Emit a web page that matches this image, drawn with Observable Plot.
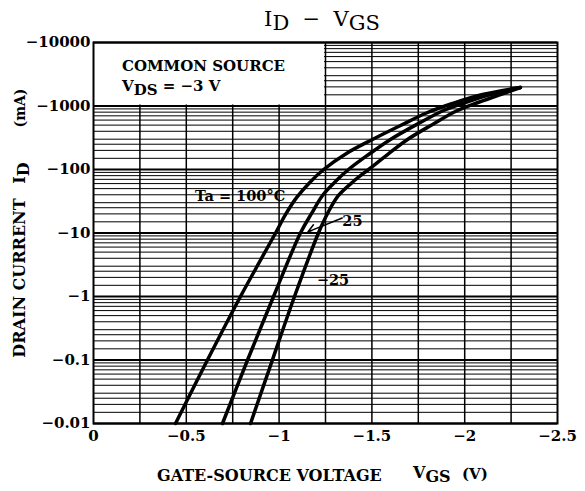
<!DOCTYPE html>
<html><head><meta charset="utf-8">
<script src="https://cdn.jsdelivr.net/npm/d3@7"></script>
<script src="https://cdn.jsdelivr.net/npm/@observablehq/plot@0.6"></script>
<style>body{margin:0;background:#fff}</style>
</head><body><div id="chart"></div>
<script>
// ---- data (VGS in V, ID in mA) ----
const vgs100 = [-0.442, -0.614, -0.792, -0.981, -1.035, -1.094, -1.164, -1.240, -1.363, -1.503, -1.654, -1.800, -1.934, -2.096, -2.30];
const id100  = [-0.01, -0.1, -1, -10, -19.6, -36, -62, -100, -179, -297, -493, -790, -1095, -1517, -1955];
const vgs25  = [-0.695, -0.830, -0.970, -1.115, -1.175, -1.234, -1.309, -1.374, -1.482, -1.600, -1.751, -1.886, -2.004, -2.139, -2.30];
const id25   = [-0.01, -0.1, -1, -10, -20.3, -39, -67, -100, -172, -297, -530, -850, -1135, -1517, -1955];
const vgsM25 = [-0.846, -0.964, -1.083, -1.212, -1.261, -1.320, -1.406, -1.482, -1.584, -1.692, -1.827, -1.950, -2.058, -2.177, -2.30];
const idM25  = [-0.01, -0.1, -1, -10, -20.3, -39, -67, -100, -172, -297, -512, -818, -1095, -1462, -1955];

const xTicks = [0, -0.5, -1, -1.5, -2, -2.5];
const xGrid = [-0.25, -0.5, -0.75, -1, -1.25, -1.5, -1.75, -2, -2.25];
const yTicks = [-0.01, -0.1, -1, -10, -100, -1000, -10000];
const minorMult = [1.5, 2, 2.5, 3, 4, 5, 6, 7, 8, 9];

const labelText = ["Ta = 100°C", "25", "−25"];
const labelX = [-0.79, -1.395, -1.29];
const labelY = [-38, -15.5, -1.8];
const arrowFrom = {x: -1.34, y: -17.2};
const arrowTo = {x: -1.155, y: -10.4};
const noteBox = [{x1: 0, x2: -1.25, y1: -1000, y2: -10000}];

// ---- build tables ----
const curves = [];
[[vgs100, id100, "100"], [vgs25, id25, "25"], [vgsM25, idM25, "-25"]].forEach(([xs, ys, t]) =>
  xs.forEach((v, i) => curves.push({vgs: v, id: ys[i], ta: t})));
const minor = [];
yTicks.slice(0, -1).forEach(d => minorMult.forEach(m => minor.push(d * m)));
const labels = labelText.map((t, i) => ({t, x: labelX[i], y: labelY[i]}));

const F = "DejaVu Serif";
const chart = Plot.plot({
  width: 585, height: 491,
  marginLeft: 93, marginRight: 28, marginTop: 42, marginBottom: 68,
  style: {fontFamily: F, fontSize: "15px", fontWeight: "bold", color: "black", background: "white"},
  x: {domain: [0, -2.5], ticks: xTicks, tickFormat: d3.format(""), tickSize: 0, tickPadding: 7, label: null},
  y: {type: "log", domain: [-0.01, -10000], ticks: yTicks, tickFormat: d3.format(""), tickSize: 0, tickPadding: 3, label: null},
  marks: [
    Plot.ruleY(minor, {stroke: "black", strokeWidth: 1}),
    Plot.ruleX(xGrid, {stroke: "black", strokeWidth: 1.5}),
    Plot.rect(noteBox, {x1: "x1", x2: "x2", y1: "y1", y2: "y2", fill: "white", insetRight: 1, insetBottom: 1}),
    Plot.ruleY(yTicks, {stroke: "black", strokeWidth: 2.2}),
    Plot.text(labels, {x: "x", y: "y", text: "t", fontSize: 14.5, fontWeight: "bold", fill: "black"}),
    Plot.arrow([arrowFrom], {x1: "x", y1: "y", x2: d => arrowTo.x, y2: d => arrowTo.y, stroke: "black", strokeWidth: 1.5, headLength: 9}),
    Plot.line(curves, {x: "vgs", y: "id", z: "ta", stroke: "black", strokeWidth: 3.5, curve: "catmull-rom"}),
    Plot.frame({stroke: "black", strokeWidth: 2})
  ]
});
document.getElementById("chart").append(chart);

const svg = d3.select(chart);
// white boxes behind annotation labels
svg.selectAll('g[aria-label="text"] text').each(function() {
  const b = this.getBBox();
  d3.select(this.parentNode).insert("rect", () => this)
    .attr("x", b.x - 5).attr("y", b.y - 1).attr("width", b.width + 10).attr("height", b.height + 2)
    .attr("fill", "white");
});

function rich(x, y, parts, opts = {}) {
  const t = svg.append("text").attr("x", x).attr("y", y)
    .attr("font-family", F).attr("font-size", opts.size || 15)
    .attr("font-weight", opts.weight || "bold").attr("fill", "black")
    .attr("text-anchor", opts.anchor || "start");
  if (opts.transform) t.attr("transform", opts.transform);
  let shift = 0;
  parts.forEach(([s, sub]) => {
    const want = sub ? (opts.sub || 4) : 0;
    t.append("tspan").attr("dy", want - shift).text(s);
    shift = want;
  });
  return t;
}
// title
rich(322, 26, [["I"], ["D", 1], ["  −  V"], ["GS", 1]], {size: 21, weight: "normal", anchor: "middle", sub: 4});
// note box
rich(122, 71, [["COMMON SOURCE"]]);
rich(122, 91, [["V"], ["DS", 1], [" = −3 V"]]);
// x title
rich(157, 481, [["GATE-SOURCE VOLTAGE"]], {size: 16});
rich(413, 478, [["V"], ["GS", 1]], {size: 16});
rich(462, 479, [["(V)"]], {size: 15});
// y title
rich(0, 0, [["DRAIN CURRENT"]], {anchor: "middle", size: 16, transform: "translate(25,278) rotate(-90)"});
rich(0, 0, [["I"], ["D", 1]], {anchor: "middle", size: 16, transform: "translate(25,173) rotate(-90)"});
rich(0, 0, [["(mA)"]], {anchor: "middle", size: 14, transform: "translate(25,108) rotate(-90)"});
</script>
</body></html>
